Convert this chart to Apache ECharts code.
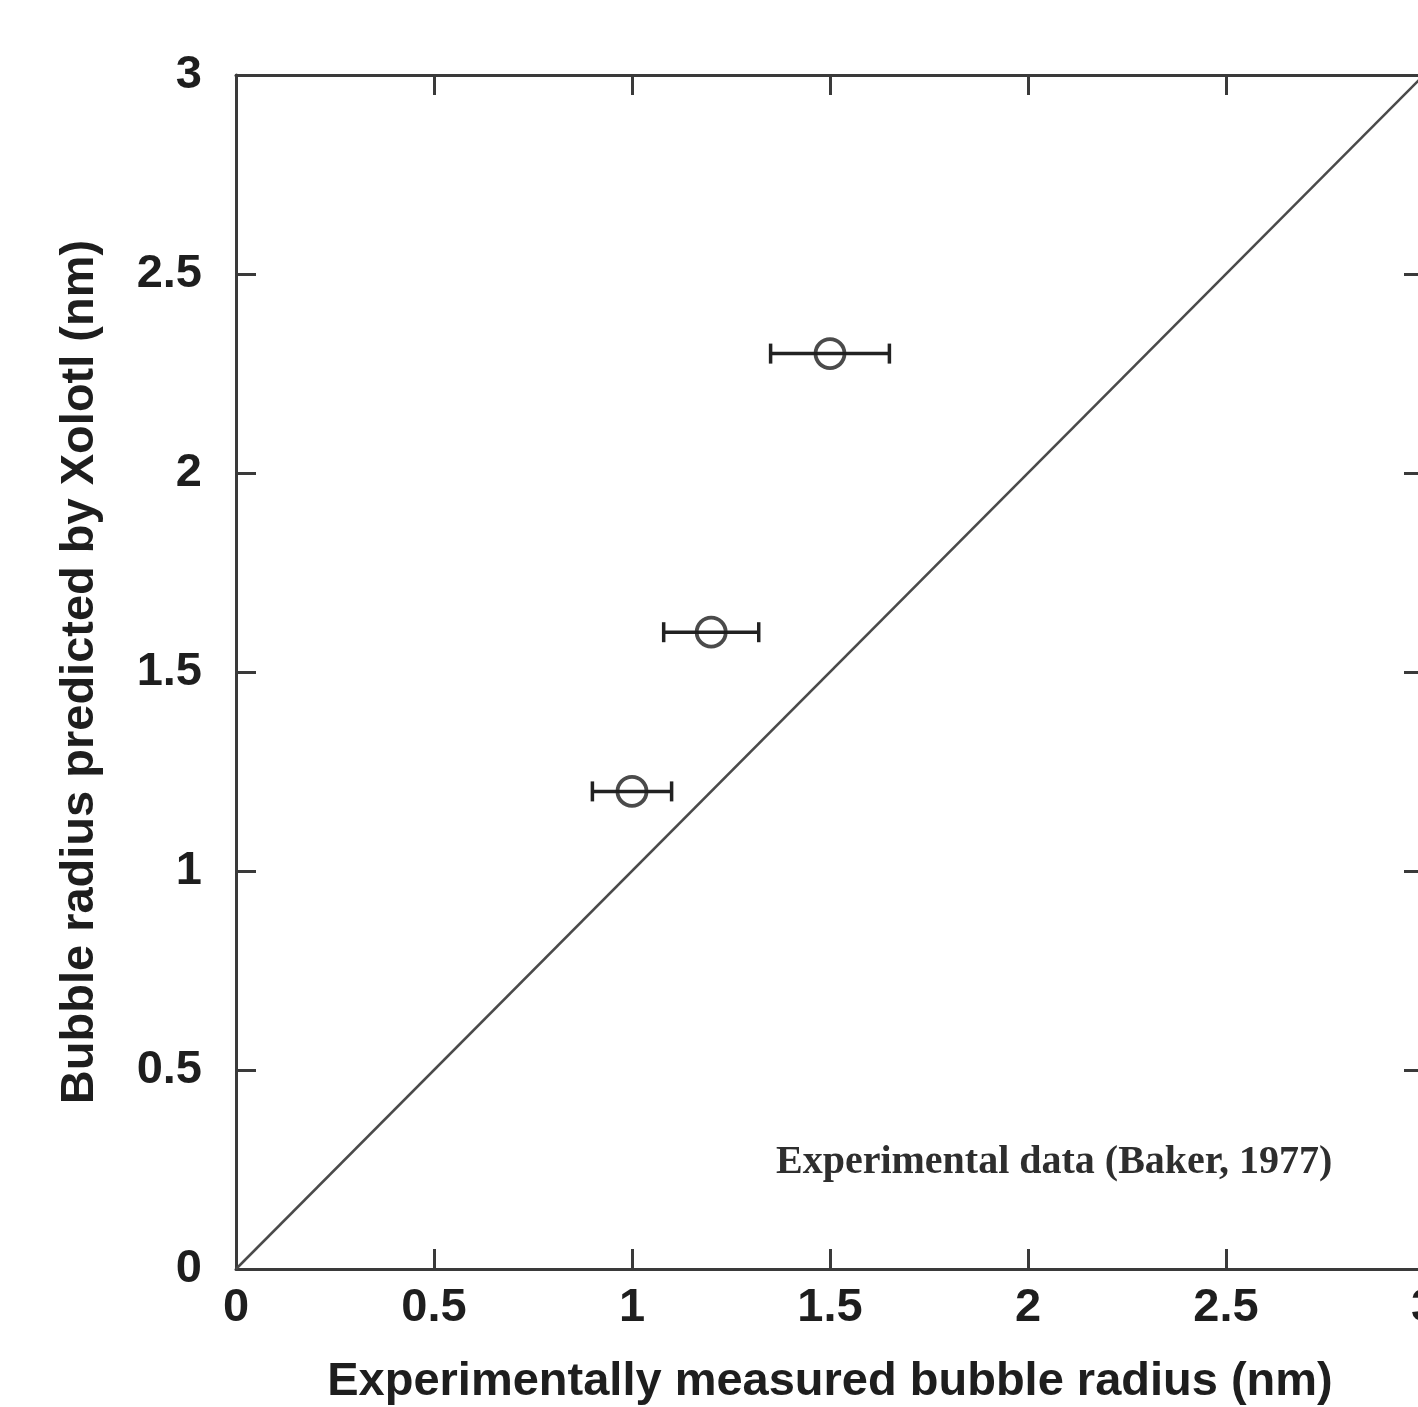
<!DOCTYPE html>
<html>
<head>
<meta charset="utf-8">
<script src="https://cdn.jsdelivr.net/npm/echarts@6/dist/echarts.min.js"></script>
<style>
  html, body { margin: 0; padding: 0; background: #fff; }
  #chart { width: 1418px; height: 1407px; }
</style>
</head>
<body>
<div id="chart"></div>
<script>
// measured (x) vs predicted (y) bubble radius, nm
const measured = [1.0, 1.2, 1.5];
const predicted = [1.2, 1.6, 2.3];
const measuredErr = [0.1, 0.12, 0.15];
const parity = [[0, 0], [3, 3]];

const axisColor = '#3a3a3a';
const labelFont = 'Liberation Sans, Arial, sans-serif';

const points = measured.map((x, i) => [x, predicted[i]]);
const errBars = measured.map((x, i) => [x - measuredErr[i], x + measuredErr[i], predicted[i]]);

const chart = echarts.init(document.getElementById('chart'));

function frameAxis(pos, showLabels) {
    return {
        type: 'value',
        position: pos,
        min: 0,
        max: 3,
        interval: 0.5,
        axisLine: {show: true, onZero: false, lineStyle: {color: axisColor, width: 3}},
        axisTick: {show: true, inside: true, length: 20, lineStyle: {color: axisColor, width: 3}},
        splitLine: {show: false},
        axisLabel: showLabels ? {
            show: true,
            fontFamily: labelFont,
            fontWeight: 'bold',
            fontSize: 47,
            color: '#1e1e1e',
            margin: pos === 'left' ? 34 : 16
        } : {show: false}
    };
}

const xBottom = frameAxis('bottom', true);
xBottom.name = 'Experimentally measured bubble radius (nm)';
xBottom.nameLocation = 'middle';
xBottom.nameGap = 90;
xBottom.nameTextStyle = {fontFamily: labelFont, fontWeight: 'bold', fontSize: 47, color: '#1e1e1e'};

const yLeft = frameAxis('left', true);
yLeft.name = 'Bubble radius predicted by Xolotl (nm)';
yLeft.nameLocation = 'middle';
yLeft.nameGap = 132;
yLeft.nameTextStyle = {fontFamily: labelFont, fontWeight: 'bold', fontSize: 47, color: '#1e1e1e'};

const option = {
    backgroundColor: '#fff',
    animation: false,
    grid: {left: 236, top: 75, right: -6, bottom: 138, outerBoundsMode: 'none'},
    xAxis: [xBottom, frameAxis('top', false)],
    yAxis: [yLeft, frameAxis('right', false)],
    graphic: [{
        type: 'text',
        left: 776,
        top: 1143,
        style: {
            text: 'Experimental data (Baker, 1977)',
            font: 'bold 40px "Liberation Serif", "Times New Roman", serif',
            fill: '#2e2e2e'
        }
    }],
    series: [
        {
            type: 'line',
            data: parity,
            symbol: 'none',
            lineStyle: {color: '#4a4a4a', width: 2.5},
            silent: true
        },
        {
            type: 'custom',
            data: errBars,
            renderItem: function (params, api) {
                const p1 = api.coord([api.value(0), api.value(2)]);
                const p2 = api.coord([api.value(1), api.value(2)]);
                const cap = 10;
                const style = {stroke: '#222', lineWidth: 3.5};
                return {
                    type: 'group',
                    children: [
                        {type: 'line', shape: {x1: p1[0], y1: p1[1], x2: p2[0], y2: p2[1]}, style: style},
                        {type: 'line', shape: {x1: p1[0], y1: p1[1] - cap, x2: p1[0], y2: p1[1] + cap}, style: style},
                        {type: 'line', shape: {x1: p2[0], y1: p2[1] - cap, x2: p2[0], y2: p2[1] + cap}, style: style}
                    ]
                };
            },
            z: 3
        },
        {
            type: 'scatter',
            data: points,
            symbol: 'circle',
            symbolSize: 29,
            itemStyle: {color: 'rgba(0,0,0,0)', borderColor: '#1e1e1e', borderWidth: 3.8},
            z: 4
        }
    ]
};

chart.setOption(option);
</script>
</body>
</html>
